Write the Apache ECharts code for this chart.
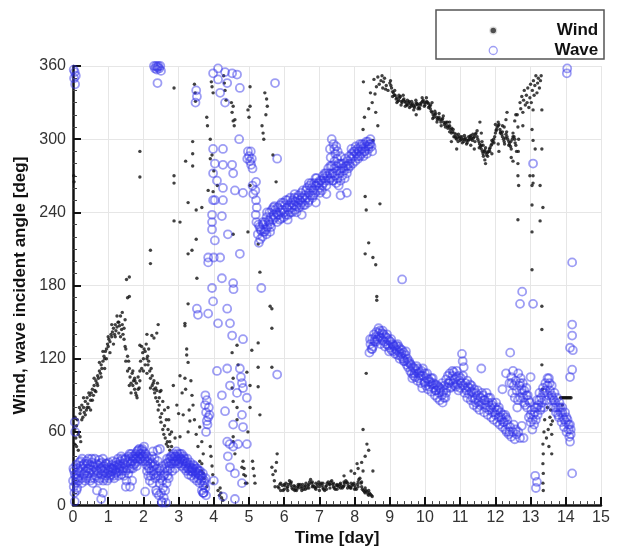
<!DOCTYPE html>
<html><head><meta charset="utf-8">
<script src="https://cdn.jsdelivr.net/npm/echarts@6/dist/echarts.min.js"></script>
<style>html,body{margin:0;padding:0;background:#fff}#c{width:622px;height:552px}</style>
</head><body><div id="c"></div>
<script>
// ---- axis ticks ----
const xTicks = [0,1,2,3,4,5,6,7,8,9,10,11,12,13,14,15];
const yTicks = [0,60,120,180,240,300,360];

// ---- Wind (black dots), [day, deg] ----
const windEarly = [[0.02,270],[0.03,265],[0.05,62],[0.08,55],[0.1,48],[0.06,72],[0.12,70],[0.15,58],[0.18,80],[0.2,56],[0.22,52],[0.2,75],[0.22,78],[0.25,82],[0.28,72],[0.3,80],[0.32,76],[0.35,85],[0.38,78],[0.4,88],[0.42,83],[0.45,80],[0.48,90],[0.5,86],[0.52,92],[0.55,95],[0.58,90],[0.6,98],[0.62,94],[0.65,102],[0.68,100],[0.7,106],[0.72,104],[0.75,110],[0.78,108],[0.8,115],[0.82,112],[0.85,118],[0.88,122],[0.9,120],[0.92,126],[0.95,128],[0.98,132],[1.0,130],[1.02,136],[1.05,134],[1.08,140],[1.1,138],[1.12,142],[1.15,145],[1.18,140],[1.2,148],[1.22,143],[1.25,146],[1.28,150],[1.3,141],[1.32,147],[1.35,155],[1.38,144],[1.4,158],[1.42,140],[1.45,136],[1.48,130],[1.5,128],[1.52,185],[1.55,170],[1.55,122],[1.58,118],[1.6,112],[1.62,105],[1.65,100],[1.68,108],[1.7,98],[1.72,102],[1.75,95],[1.76,102],[1.78,92],[1.8,100],[1.82,88],[1.85,105],[1.88,96],[1.9,110],[1.9,131],[1.92,118],[1.95,112],[1.98,125],[2.0,120],[2.02,128],[2.05,115],[2.08,132],[2.1,140],[2.1,120],[2.12,122],[2.13,115],[2.15,118],[2.18,110],[2.2,104],[2.22,112],[2.24,139],[2.25,98],[2.28,100],[2.3,137],[2.3,95],[2.32,92],[2.35,88],[2.38,141],[2.38,94],[2.42,148],[2.4,85],[2.42,78],[2.45,82],[2.47,93],[2.48,72],[2.5,68],[2.52,75],[2.55,62],[2.58,58],[2.6,65],[2.62,55],[2.65,50],[2.68,52],[2.7,80],[2.72,70],[2.75,58],[2.7,48],[2.75,45],[2.8,60],[2.85,98],[2.95,82],[3.04,106],[3.04,56],[3.13,74],[3.18,104],[3.18,147],[3.23,123],[3.23,128],[3.27,117],[3.27,60],[3.32,69],[3.38,90],[3.41,82],[3.6,64],[3.66,52],[3.7,42],[3.66,34],[3.7,26],[1.6,187],[1.6,171],[1.9,290],[1.9,269],[2.2,209],[2.2,198],[2.87,342],[2.87,270],[2.87,264],[2.87,233],[3.04,232],[3.2,282],[3.27,248],[3.4,298],[3.4,288],[3.4,278],[3.5,242],[3.5,218],[3.27,206],[3.38,209],[3.52,186],[3.27,165],[3.18,149]];
const windEarlyB = [[0.25,70],[0.3,88],[0.35,74],[0.4,80],[0.45,92],[0.5,78],[0.55,86],[0.6,104],[0.65,93],[0.7,98],[0.75,117],[0.8,105],[0.85,126],[0.9,112],[0.95,120],[1.0,138],[1.05,125],[1.1,148],[1.15,132],[1.2,138],[1.25,155],[1.3,150],[1.35,138],[1.4,148],[1.45,145],[1.48,152],[1.5,118],[1.55,110],[1.6,98],[1.65,92],[1.7,110],[1.75,104],[1.8,90],[1.85,95],[1.9,102],[1.95,130],[2.0,110],[2.05,126],[2.1,108],[2.15,128],[2.2,96],[2.25,106],[2.3,102],[2.35,96],[2.4,100],[2.45,88],[2.5,94],[2.55,85],[2.6,78],[2.65,70],[2.7,62],[2.75,52],[2.8,48],[2.9,55],[3.0,75],[3.1,92],[3.2,95],[3.3,78],[3.35,102],[3.45,70],[3.5,58],[3.55,48],[0.1,65],[0.15,45],[0.05,50]];
const windMid = [[3.45,345],[3.47,338],[3.48,331],[3.8,318],[3.82,311],[3.93,347],[3.95,343],[3.98,338],[3.9,300],[3.9,284],[3.95,287],[4.0,274],[4.1,262],[3.98,257],[3.84,258],[3.66,244],[4.28,352],[4.3,346],[4.32,340],[4.35,332],[4.5,330],[4.52,322],[4.55,315],[4.58,311],[4.55,327],[4.6,316],[5.03,343],[5.03,327],[4.97,324],[5.0,318],[5.45,338],[5.5,333],[5.52,327],[5.48,320],[5.37,311],[5.4,305],[5.42,300],[5.68,287],[5.77,265],[5.03,262],[4.97,224],[5.26,214],[4.55,222],[5.31,191],[5.6,163],[5.65,161],[5.65,145],[5.26,133],[4.52,125],[4.55,104],[4.52,96],[5.26,113],[5.65,113],[5.03,98],[5.26,97],[5.31,74],[5.03,80],[4.55,85],[4.66,80],[4.66,70],[4.97,60],[4.55,52],[4.6,42],[4.83,36],[4.86,30],[4.9,24],[4.94,18],[5.1,36],[5.12,30],[5.15,24],[5.17,18],[5.65,31],[5.68,25],[5.72,20],[5.74,15],[3.9,48],[3.92,40],[3.95,32],[3.97,25],[3.98,18],[4.12,12],[4.16,8],[4.2,10],[4.22,6],[4.26,4],[4.18,14],[3.6,36],[3.65,28],[3.72,22],[3.8,15],[4.66,131],[4.69,115],[4.94,109],[5.08,127],[4.55,56],[4.8,31],[4.85,25],[4.9,18],[5.8,42],[5.78,35],[5.75,28]];
const windLow = [[5.82,15],[5.85,14],[5.88,17],[5.9,12],[5.95,16],[5.97,12],[6.0,13],[6.02,16],[6.05,18],[6.08,14],[6.1,15],[6.12,17],[6.15,20],[6.18,18],[6.2,16],[6.22,14],[6.25,13],[6.28,16],[6.3,15],[6.32,13],[6.35,12],[6.38,15],[6.4,14],[6.42,16],[6.45,17],[6.48,14],[6.5,15],[6.52,17],[6.55,13],[6.58,15],[6.6,16],[6.62,18],[6.65,14],[6.68,16],[6.7,17],[6.72,19],[6.75,21],[6.78,18],[6.8,19],[6.82,16],[6.85,15],[6.88,14],[6.9,13],[6.92,15],[6.95,17],[6.98,19],[7.0,15],[7.02,17],[7.05,18],[7.08,16],[7.1,14],[7.12,13],[7.15,12],[7.18,15],[7.2,16],[7.22,18],[7.25,19],[7.28,17],[7.3,17],[7.32,19],[7.35,20],[7.38,17],[7.4,15],[7.42,14],[7.45,13],[7.48,16],[7.5,17],[7.52,16],[7.55,15],[7.58,17],[7.6,18],[7.62,16],[7.65,14],[7.68,15],[7.7,16],[7.72,18],[7.75,20],[7.78,19],[7.8,18],[7.82,16],[7.85,15],[7.88,14],[7.9,14],[7.92,16],[7.95,17],[7.98,18],[8.0,16],[8.02,14],[8.05,13],[8.08,17],[8.1,19],[8.12,21],[8.15,22],[8.18,18],[8.2,15],[8.22,13],[8.25,12],[8.28,11],[8.3,10],[8.32,12],[8.35,11],[8.38,9],[8.4,8],[8.42,10],[8.45,9],[8.48,8],[8.5,7],[7.7,24],[7.9,28],[8.0,26],[8.1,30],[8.2,35],[8.07,34],[8.24,28],[8.52,28],[8.3,40],[8.35,50],[8.4,45],[8.24,62],
[5.9,18],[6.0,17],[6.1,12],[6.2,19],[6.3,12],[6.4,17],[6.5,12],[6.6,13],[6.7,14],[6.8,15],[6.9,18],[7.0,12],[7.1,18],[7.2,13],[7.3,14],[7.4,18],[7.5,13],[7.6,14],[7.7,19],[7.8,14],[7.9,18],[8.0,13],[8.1,15],[8.2,19],[8.3,14],[8.4,12]];
const windHigh = [[8.33,108],[8.63,171],[8.63,168],[8.3,206],[8.52,203],[8.6,197],[8.4,215],[8.72,247],[8.33,242],[8.3,253],[8.25,347],[8.55,349],[8.66,351],[8.7,345],[8.75,348],[8.78,352],[8.8,342],[8.82,347],[8.85,350],[8.88,341],[8.9,344],[8.95,340],[8.5,330],[8.6,322],[8.66,311],[8.24,308],[8.52,299],[8.45,338],[8.4,325],[8.28,318],[8.58,337],[8.62,343],
[9.0,346],[9.03,344],[9.05,342],[9.08,339],[9.1,338],[9.13,336],[9.15,336],[9.18,333],[9.2,334],[9.23,331],[9.25,332],[9.28,334],[9.3,335],[9.33,331],[9.35,330],[9.38,332],[9.4,333],[9.43,331],[9.45,330],[9.48,328],[9.5,328],[9.53,330],[9.55,331],[9.58,329],[9.6,327],[9.63,328],[9.65,329],[9.68,327],[9.7,326],[9.73,328],[9.75,330],[9.78,329],[9.8,328],[9.83,326],[9.85,325],[9.88,328],[9.9,330],[9.93,331],[9.95,332],[9.98,330],[10.0,328],[10.03,330],[10.05,331],[10.08,330],[10.1,329],[10.13,327],[10.15,325],[10.18,323],[10.2,322],[10.23,320],[10.25,318],[10.28,320],[10.3,321],[10.33,318],[10.35,316],[10.38,317],[10.4,318],[10.43,316],[10.45,314],[10.48,316],[10.5,317],[10.53,314],[10.55,312],[10.58,313],[10.6,314],[10.63,311],[10.65,309],[10.68,310],[10.7,311],[10.73,308],[10.75,305],[10.78,306],[10.8,308],[10.83,305],[10.85,302],[10.88,301],[10.9,300],[10.93,302],[10.95,304],[10.98,301],[11.0,299],[11.03,300],[11.05,302],[11.08,300],[11.1,298],[11.13,300],[11.15,301],[11.18,299],[11.2,297],[11.23,299],[11.25,300],[11.28,302],[11.3,303],[11.33,301],[11.35,299],[11.38,301],[11.4,302],[11.43,304],[11.45,305],[11.48,302],[11.5,300],[11.53,298],[11.55,296],[11.58,294],[11.6,292],[11.63,290],[11.65,288],[11.68,290],[11.7,291],[11.73,289],[11.75,287],[11.78,289],[11.8,290],[11.83,292],[11.85,293],[11.88,295],[11.9,296],[11.93,298],[11.95,300],[11.98,302],[12.0,305],[12.03,308],[12.05,310],[12.08,311],[12.1,312],[12.13,308],[12.15,306],[12.18,304],[12.2,302],[12.23,300],[12.25,298],[12.28,301],[12.3,304],[12.33,302],[12.35,300],[12.38,298],[12.4,296],[12.43,294],[12.45,292],[12.48,300],[12.5,305],[12.53,302],[12.55,300],[12.58,295],[12.6,290],
[10.7,314],[10.75,298],[10.9,292],[11.56,314],[11.6,305],[11.62,298],[11.65,295],[12.2,311],[12.33,322],[12.3,316],[12.0,312],[11.9,288],[12.08,296],[12.1,290],[11.7,283],[11.72,280],[12.25,310],[12.45,285],[12.5,282],[12.55,315],[12.58,320],[10.2,330],[9.75,320],[11.3,295],[11.4,292]];
const windHighB = [[9.02,348],[9.08,335],[9.14,340],[9.2,330],[9.26,336],[9.32,328],[9.38,336],[9.44,327],[9.5,332],[9.56,326],[9.62,331],[9.68,324],[9.74,332],[9.8,325],[9.86,329],[9.92,334],[9.98,327],[10.04,334],[10.1,326],[10.16,328],[10.22,317],[10.28,323],[10.34,314],[10.4,321],[10.46,311],[10.52,319],[10.58,310],[10.64,314],[10.7,306],[10.76,309],[10.82,302],[10.88,304],[10.94,298],[11.0,302],[11.06,297],[11.12,303],[11.18,296],[11.24,302],[11.3,300],[11.36,304],[11.42,298],[11.48,307],[11.54,293],[11.6,295],[11.66,286],[11.72,293],[11.78,286],[11.84,290],[11.9,299],[11.96,297],[12.02,307],[12.08,314],[12.14,305],[12.2,306],[12.26,296],[12.32,306],[12.38,295],[12.44,298],[12.5,302],[12.56,297]];
const windLate = [[12.62,320],[12.64,310],[12.66,300],[12.65,290],[12.64,280],[12.64,270],[12.66,262],[12.7,330],[12.72,325],[12.75,335],[12.78,322],[12.8,332],[12.82,340],[12.85,328],[12.88,336],[12.9,330],[12.92,342],[12.95,326],[12.98,334],[13.0,345],[13.02,330],[13.05,340],[13.08,348],[13.1,336],[13.12,344],[13.15,352],[13.18,338],[13.2,346],[13.22,350],[13.25,342],[13.28,348],[13.3,352],[12.78,311],[13.07,324],[13.04,308],[13.07,299],[13.13,292],[12.98,270],[13.07,264],[13.32,292],[13.32,324],[12.64,234],[13.04,224],[13.04,193],[13.35,244],[13.27,233],[13.32,163],[13.32,144],[13.32,115],[13.04,246],[13.07,270],[13.04,262],[13.27,262],[13.34,95],[13.35,50],[13.36,42],[13.35,34],[13.36,26],[13.35,18],[13.36,12],[13.38,60],[13.4,70],[13.45,55],[13.5,62],[13.52,48],[13.55,72],[13.58,66],[13.6,58],[13.62,69],[13.6,42],[13.57,78],[13.48,80],[13.85,88],[13.88,88],[13.91,88],[13.94,88],[13.97,88],[14.0,88],[14.03,88],[14.06,88],[14.09,88],[14.12,88],[14.15,88],[13.9,82]];

// ---- Wave (blue open circles), [day, deg] ----
const waveEarly = [[0.0,20],[0.02,15],[0.03,28],[0.05,68],[0.06,60],[0.04,10],[0.05,3],[0.07,22],[0.08,18],[0.1,25],[0.1,12],[0.12,14],[0.14,30],[0.16,20],[0.18,35],[0.2,27],[0.22,32],[0.24,22],[0.26,38],[0.28,30],[0.3,25],[0.32,34],[0.34,20],[0.36,28],[0.38,36],[0.4,24],[0.42,30],[0.44,38],[0.46,26],[0.48,33],[0.5,22],[0.52,29],[0.54,35],[0.56,18],[0.58,27],[0.6,31],[0.62,38],[0.64,24],[0.66,29],[0.68,12],[0.7,33],[0.72,26],[0.74,37],[0.76,22],[0.78,30],[0.8,5],[0.8,25],[0.82,35],[0.84,28],[0.85,10],[0.86,20],[0.88,32],[0.9,27],[0.92,24],[0.94,30],[0.96,34],[0.98,26],[1.0,29],[1.02,22],[1.04,31],[1.06,27],[1.08,25],[1.1,33],[1.12,28],[1.14,30],[1.16,24],[1.18,32],[1.2,29],[1.22,35],[1.24,27],[1.26,31],[1.28,38],[1.3,33],[1.32,28],[1.34,36],[1.36,32],[1.38,25],[1.4,38],[1.42,34],[1.44,30],[1.46,37],[1.48,33],[1.5,28],[1.5,15],[1.52,20],[1.55,35],[1.58,40],[1.6,30],[1.62,15],[1.62,38],[1.64,34],[1.66,42],[1.68,20],[1.68,36],[1.7,30],[1.72,38],[1.74,40],[1.76,34],[1.78,42],[1.8,38],[1.82,44],[1.84,36],[1.86,40],[1.88,46],[1.9,42],[1.92,38],[1.94,45],[1.96,40],[1.98,36],[2.0,44],[2.02,48],[2.04,38],[2.05,11],[2.06,42],[2.08,33],[2.1,28],[2.12,36],[2.14,24],[2.16,30],[2.18,20],[2.2,34],[2.22,28],[2.24,40],[2.26,18],[2.27,44],[2.28,32],[2.3,25],[2.32,38],[2.34,22],[2.36,12],[2.38,30],[2.38,10],[2.4,45],[2.42,24],[2.44,8],[2.46,18],[2.47,46],[2.48,28],[2.5,10],[2.52,3],[2.53,2],[2.54,20],[2.56,14],[2.58,6],[2.6,25],[2.62,12],[2.64,2],[2.66,18],[2.67,38],[2.68,28],[2.7,35],[2.72,22],[2.74,38],[2.76,30],[2.78,40],[2.8,34],[2.82,28],[2.84,38],[2.86,42],[2.88,36],[2.9,30],[2.92,40],[2.94,44],[2.96,38],[2.98,34],[3.0,40],[3.02,36],[3.04,42],[3.06,38],[3.08,32],[3.1,37],[3.12,34],[3.14,40],[3.16,30],[3.18,36],[3.2,32],[3.22,28],[3.24,35],[3.26,30],[3.28,25],[3.3,33],[3.32,28],[3.34,31],[3.36,24],[3.38,30],[3.4,27],[3.42,33],[3.44,22],[3.46,28],[3.48,25],[3.5,30],[3.52,20],[3.54,26],[3.56,22],[3.58,28],[3.6,18],[3.62,24],[3.64,20],[3.66,12],[3.68,22],[3.7,16],[3.7,10],[3.72,10],[3.74,18],[3.76,14],[3.78,8],
[0.02,357],[0.03,350],[0.05,355],[0.06,345],[0.08,352],[2.3,360],[2.33,358],[2.36,360],[2.38,357],[2.4,359],[2.42,360],[2.45,358],[2.48,360],[2.5,356],[2.4,346]];
const waveEarlyB = [[0.01,30],[0.05,25],[0.09,33],[0.13,22],[0.17,28],[0.21,36],[0.25,18],[0.29,33],[0.33,26],[0.37,22],[0.41,34],[0.45,30],[0.49,20],[0.53,38],[0.57,32],[0.61,22],[0.65,34],[0.69,28],[0.73,20],[0.77,34],[0.81,30],[0.85,38],[0.89,22],[0.93,34],[0.97,20],[1.01,35],[1.05,24],[1.09,30],[1.13,36],[1.17,22],[1.21,26],[1.25,33],[1.29,24],[1.33,30],[1.37,40],[1.41,28],[1.45,24],[1.49,38],[1.53,30],[1.57,26],[1.61,42],[1.65,30],[1.69,40],[1.73,33],[1.77,38],[1.81,32],[1.85,45],[1.89,38],[1.93,42],[1.97,46],[2.01,40],[2.05,36],[2.09,40],[2.13,32],[2.17,38],[2.21,24],[2.25,35],[2.29,28],[2.33,33],[2.37,26],[2.41,36],[2.45,30],[2.49,22],[2.53,32],[2.57,24],[2.61,30],[2.65,34],[2.69,24],[2.73,32],[2.77,36],[2.81,40],[2.85,34],[2.89,40],[2.93,36],[2.97,42],[3.01,34],[3.05,38],[3.09,42],[3.13,36],[3.17,38],[3.21,34],[3.25,38],[3.29,30],[3.33,35],[3.37,28],[3.41,30],[3.45,32],[3.49,27],[3.53,30],[3.57,25],[3.61,28],[3.65,24],[3.69,26],[3.73,20],[3.77,22]];
const waveMid = [[3.52,335],[3.5,340],[3.48,330],[3.98,354],[4.12,358],[4.32,355],[4.52,354],[4.66,353],[4.38,346],[4.74,342],[4.18,338],[4.32,330],[4.12,349],[4.72,300],[4.97,290],[5.0,286],[5.03,282],[5.06,279],[5.1,276],[4.95,284],[5.05,290],[5.08,284],[3.98,292],[4.26,292],[4.03,280],[4.26,279],[4.52,279],[3.98,272],[4.55,272],[4.09,266],[4.26,260],[4.6,258],[4.83,256],[3.98,250],[4.03,250],[4.26,250],[3.95,238],[4.23,237],[3.95,232],[3.95,226],[4.4,222],[4.03,217],[4.74,206],[3.84,203],[4.0,203],[4.18,203],[3.84,199],[4.23,186],[4.55,182],[4.56,177],[3.95,178],[3.98,167],[3.52,161],[3.55,156],[3.84,157],[4.12,149],[4.46,149],[4.38,161],[4.52,139],[4.83,136],[4.09,110],[4.38,112],[4.74,112],[4.77,105],[4.8,100],[4.83,96],[4.46,98],[4.23,90],[3.75,82],[3.78,76],[3.8,69],[3.84,72],[3.76,90],[3.8,86],[3.86,80],[3.82,66],[3.88,74],[3.78,60],[4.32,77],[4.94,88],[4.66,92],[4.55,66],[4.8,74],[4.83,64],[4.38,52],[4.45,50],[4.55,48],[4.69,50],[4.46,31],[4.6,26],[4.26,7],[3.7,10],[4.8,18],[4.94,50],[4.6,5],[4.0,20],[4.4,40],
[5.2,265],[5.18,258],[5.2,250],[5.22,244],[5.19,238],[5.21,232],[5.74,346],[5.8,284],[5.8,107],[5.35,178],[5.1,262],[5.12,255]];
const waveRise = [[5.25,222],[5.28,215],[5.3,228],[5.32,218],[5.35,225],[5.38,220],[5.4,230],[5.42,224],[5.45,232],[5.48,226],[5.5,236],[5.52,228],[5.55,233],[5.58,240],[5.6,230],[5.62,236],[5.65,242],[5.68,234],[5.7,238],[5.72,245],[5.75,236],[5.78,240],[5.8,232],[5.82,244],[5.85,238],[5.88,246],[5.9,240],[5.92,235],[5.95,242],[5.98,248],[6.0,240],[6.02,246],[6.05,238],[6.08,244],[6.1,250],[6.12,242],[6.15,246],[6.18,240],[6.2,248],[6.22,244],[6.25,250],[6.28,246],[6.3,242],[6.32,249],[6.35,245],[6.38,252],[6.4,248],[6.42,244],[6.45,250],[6.48,256],[6.5,248],[6.52,252],[6.55,246],[6.58,254],[6.6,250],[6.62,258],[6.65,252],[6.68,248],[6.7,256],[6.72,262],[6.75,254],[6.78,260],[6.8,252],[6.82,258],[6.85,264],[6.88,256],[6.9,262],[6.92,268],[6.95,258],[6.98,264],[7.0,260],[7.02,256],[7.05,266],[7.08,262],[7.1,270],[7.12,264],[7.15,272],[7.18,266],[7.2,262],[7.22,270],[7.25,276],[7.28,266],[7.3,272],[7.32,268],[7.35,278],[7.38,272],[7.4,266],[7.42,276],[7.45,270],[7.48,264],[7.5,274],[7.52,268],[7.55,262],[7.58,272],[7.6,266],[7.62,276],[7.65,270],[7.68,280],[7.7,274],[7.72,268],[7.75,278],[7.78,272],[7.8,282],[7.82,276],[7.85,286],[7.88,278],[7.9,284],[7.92,288],[7.95,280],[7.98,286],[8.0,290],[8.02,282],[8.05,288],[8.08,292],[8.1,284],[8.12,290],[8.15,286],[8.18,294],[8.2,288],[8.22,292],[8.25,286],[8.28,296],[8.3,290],[8.32,294],[8.35,288],[8.38,298],[8.4,292],[8.42,296],[8.45,300],[8.48,294],[8.5,290],
[7.35,300],[7.4,296],[7.42,292],[7.45,288],[7.48,294],[7.5,284],[7.52,290],[7.55,280],[7.6,286],[7.3,292],[7.32,285],[7.6,254],[7.78,256],[6.5,238],[6.9,248],[7.2,255],[5.5,222],[5.6,224],[6.1,234],[6.3,255],[6.7,264]];
const waveRiseB = [[5.27,230],[5.33,226],[5.39,232],[5.45,224],[5.51,240],[5.57,232],[5.63,228],[5.69,244],[5.75,242],[5.81,238],[5.87,234],[5.93,248],[5.99,236],[6.05,250],[6.11,238],[6.17,252],[6.23,240],[6.29,252],[6.35,240],[6.41,254],[6.47,246],[6.53,258],[6.59,246],[6.65,260],[6.71,250],[6.77,264],[6.83,254],[6.89,268],[6.95,264],[7.01,266],[7.07,258],[7.13,268],[7.19,272],[7.25,268],[7.31,278],[7.37,266],[7.43,282],[7.49,278],[7.55,274],[7.61,280],[7.67,276],[7.73,284],[7.79,278],[7.85,280],[7.91,292],[7.97,290],[8.03,294],[8.09,286],[8.15,296],[8.21,296],[8.27,290],[8.33,298],[8.39,294],[8.45,296]];
const waveLate = [[8.42,125],[8.45,132],[8.48,128],[8.5,136],[8.52,130],[8.55,140],[8.58,134],[8.6,138],[8.62,142],[8.65,136],[8.68,141],[8.7,138],[8.72,143],[8.75,137],[8.78,141],[8.8,135],[8.82,140],[8.85,134],[8.88,138],[8.9,132],[8.92,137],[8.95,131],[8.98,135],[9.0,129],[9.02,134],[9.05,127],[9.08,132],[9.1,126],[9.12,130],[9.15,124],[9.18,131],[9.2,127],[9.22,123],[9.25,130],[9.28,125],[9.3,128],[9.32,122],[9.35,127],[9.38,120],[9.4,125],[9.42,118],[9.45,123],[9.48,115],[9.5,120],[9.52,113],[9.55,118],[9.58,110],[9.6,115],[9.62,108],[9.65,113],[9.68,106],[9.7,112],[9.72,105],[9.75,110],[9.78,102],[9.8,112],[9.82,104],[9.85,109],[9.88,100],[9.9,110],[9.92,96],[9.95,106],[9.98,101],[10.0,108],[10.02,98],[10.05,104],[10.08,95],[10.1,103],[10.12,97],[10.15,101],[10.18,93],[10.2,99],[10.22,104],[10.25,96],[10.28,90],[10.3,99],[10.32,94],[10.35,88],[10.38,97],[10.4,92],[10.42,86],[10.45,95],[10.48,90],[10.5,84],[10.52,93],[10.55,98],[10.58,88],[10.6,103],[10.62,96],[10.65,106],[10.68,100],[10.7,108],[10.72,102],[10.75,97],[10.78,106],[10.8,100],[10.82,109],[10.85,103],[10.88,97],[10.9,105],[10.92,99],[10.95,94],[10.98,102],[11.0,96],[11.02,104],[11.05,124],[11.07,118],[11.1,113],[11.08,98],[11.12,92],[11.15,100],[11.18,94],[11.2,88],[11.22,97],[11.25,91],[11.28,99],[11.3,86],[11.32,93],[11.35,88],[11.38,82],[11.4,95],[11.42,87],[11.45,92],[11.48,80],[11.5,90],[11.52,85],[11.55,78],[11.58,88],[11.6,112],[11.62,83],[11.65,90],[11.68,76],[11.7,86],[11.72,80],[11.75,92],[11.78,74],[11.8,84],[11.82,78],[11.85,88],[11.88,72],[11.9,82],[11.92,76],[11.95,70],[11.98,80],[12.0,74],[12.02,84],[12.05,68],[12.08,78],[12.1,72],[12.12,66],[12.15,76],[12.18,70],[12.2,64],[12.22,74],[12.25,68],[12.28,62],[12.3,72],[12.32,60],[12.35,66],[12.38,58],[12.4,100],[12.42,125],[12.42,64],[12.45,105],[12.45,56],[12.48,92],[12.5,60],[12.5,110],[12.52,98],[12.55,54],[12.55,88],[12.58,102],[12.6,58],[12.6,94],[12.62,80],[12.65,108],[12.65,60],[12.68,98],[12.7,55],[12.7,88],[12.72,104],[12.75,95],[12.75,65],[12.78,100],[12.8,88],[12.8,55],[12.82,94],[12.85,82],[12.88,96],[12.9,80],[12.92,90],[12.95,72],[12.98,84],[13.0,68],[13.0,105],[13.02,78],[13.05,62],[13.08,74],[13.1,66],[13.12,80],[13.15,70],[13.18,86],[13.2,74],[13.22,82],[13.25,92],[13.28,78],[13.3,88],[13.32,84],[13.35,96],[13.38,80],[13.4,92],[13.42,100],[13.45,86],[13.48,98],[13.5,90],[13.52,104],[13.55,94],[13.58,86],[13.6,98],[13.62,88],[13.65,80],[13.68,92],[13.7,84],[13.72,76],[13.75,88],[13.78,80],[13.8,72],[13.82,84],[13.85,76],[13.88,68],[13.9,80],[13.92,72],[13.95,64],[13.98,76],[14.0,68],[14.02,60],[14.05,70],[14.08,62],[14.1,56],[14.12,66],[14.14,58],
[12.76,175],[12.7,165],[13.07,165],[14.18,199],[14.03,354],[14.04,358],[14.18,148],[14.18,139],[14.12,129],[14.2,127],[14.18,111],[14.12,105],[14.18,26],[13.13,24],[13.18,19],[13.15,14],[14.12,52],[9.35,185],[13.07,280],[12.2,95],[12.3,108]];
const waveLateB = [[8.44,136],[8.5,128],[8.56,135],[8.62,134],[8.68,145],[8.74,132],[8.8,143],[8.86,130],[8.92,140],[8.98,126],[9.04,136],[9.1,131],[9.16,128],[9.22,132],[9.28,120],[9.34,124],[9.4,118],[9.46,126],[9.52,117],[9.58,116],[9.64,104],[9.7,108],[9.76,114],[9.82,108],[9.88,106],[9.94,112],[10.0,100],[10.06,108],[10.12,101],[10.18,104],[10.24,100],[10.3,94],[10.36,98],[10.42,96],[10.48,100],[10.54,88],[10.6,92],[10.66,100],[10.72,96],[10.78,110],[10.84,98],[10.9,110],[10.96,106],[11.02,100],[11.08,106],[11.14,96],[11.2,102],[11.26,96],[11.32,98],[11.38,92],[11.44,84],[11.5,94],[11.56,82],[11.62,92],[11.68,86],[11.74,82],[11.8,88],[11.86,80],[11.92,84],[11.98,76],[12.04,78],[12.1,80],[12.16,72],[12.22,68],[12.28,74],[12.34,70],[12.4,60],[12.46,100],[12.52,66],[12.58,62],[12.64,86],[12.7,100],[12.76,92],[12.82,84],[12.88,90],[12.94,86],[13.0,74],[13.06,70],[13.12,76],[13.18,80],[13.24,86],[13.3,80],[13.36,92],[13.42,94],[13.48,104],[13.54,100],[13.6,90],[13.66,86],[13.72,80],[13.78,74],[13.84,80],[13.9,76],[13.96,70],[14.02,72],[14.08,66],[14.14,62]];

const windData = windEarly.concat(windEarlyB, windMid, windLow, windHigh, windHighB, windLate);
const waveData = waveEarly.concat(waveEarlyB, waveMid, waveRise, waveRiseB, waveLate, waveLateB);

const chart = echarts.init(document.getElementById('c'), null, {renderer: 'canvas'});
const FONT = '"Liberation Sans", Arial, Helvetica, sans-serif';
const axisCommon = {
  axisLine: {show: true, onZero: false, lineStyle: {color: '#111', width: 2.5}},
  axisTick: {show: true, inside: true, length: 8, lineStyle: {color: '#111', width: 2}},
  minorTick: {show: true, splitNumber: 5, length: 4, lineStyle: {color: '#444', width: 1}},
  splitLine: {show: true, lineStyle: {color: '#e6e6e6', width: 1}},
  axisLabel: {color: '#333', fontSize: 16, fontFamily: FONT},
  nameTextStyle: {color: '#111', fontSize: 17, fontWeight: 'bold', fontFamily: FONT}
};
chart.setOption({
  animation: false,
  backgroundColor: '#fff',
  grid: {left: 73, right: 21, top: 66, bottom: 40, containLabel: false},
  xAxis: Object.assign({}, axisCommon, {
    type: 'value', min: xTicks[0], max: xTicks[xTicks.length - 1], interval: 1,
    name: 'Time [day]', nameLocation: 'middle', nameGap: 22,
    axisLabel: Object.assign({}, axisCommon.axisLabel, {margin: 4})
  }),
  yAxis: Object.assign({}, axisCommon, {
    type: 'value', min: yTicks[0], max: yTicks[yTicks.length - 1], interval: 60,
    name: 'Wind, wave incident angle [deg]', nameLocation: 'middle', nameGap: 38, nameRotate: 90,
    minorTick: Object.assign({}, axisCommon.minorTick, {splitNumber: 6}),
    axisLabel: Object.assign({}, axisCommon.axisLabel, {margin: 7})
  }),
  legend: {
    orient: 'vertical', left: 483, top: 17, itemGap: 3, itemWidth: 8, itemHeight: 8,
    selectedMode: false,
    data: [
      {name: 'Wind', icon: 'circle', itemStyle: {color: '#222', borderColor: '#fff', borderWidth: 2.5}},
      {name: 'Wave', icon: 'circle', itemStyle: {color: '#fff', borderColor: 'rgba(80,80,235,0.7)', borderWidth: 1.3}}
    ],
    formatter: function (n) { return '{t|' + n + '}'; },
    textStyle: {rich: {t: {width: 96, align: 'right', fontSize: 17, fontWeight: 'bold', color: '#111', fontFamily: FONT}}}
  },
  graphic: [{type: 'rect', shape: {x: 436, y: 10, width: 168, height: 49},
    style: {fill: 'none', stroke: '#555', lineWidth: 1.5}, silent: true, z: 10}],
  series: [
    {name: 'Wind', type: 'scatter', data: windData, symbol: 'circle', symbolSize: 3.4,
     itemStyle: {color: '#111'}, silent: true, z: 2},
    {name: 'Wave', type: 'scatter', data: waveData, symbol: 'circle', symbolSize: 8,
     itemStyle: {color: 'rgba(0,0,0,0)', borderColor: 'rgba(50,50,232,0.6)', borderWidth: 1.8}, silent: true, z: 3}
  ]
});
</script></body></html>
